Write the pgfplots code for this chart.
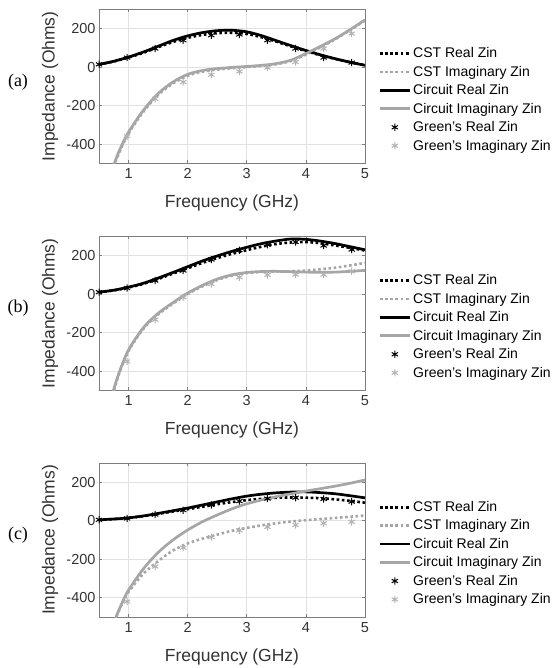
\documentclass[border=0pt]{standalone}
\usepackage{pgfplots}
\pgfplotsset{compat=1.18}
\usepackage{fontspec}
\setmainfont{Liberation Sans}
\newfontfamily\timesfont{Liberation Serif}

\definecolor{lgray}{RGB}{166,166,166}
\definecolor{mgray}{RGB}{178,178,178}
\definecolor{axgray}{RGB}{125,125,125}
\definecolor{gridgray}{RGB}{226,226,226}

\pgfplotsset{
  zin/.style={
    scale only axis, width=266pt, height=154pt,
    anchor=north west,
    xmin=0.5, xmax=5, ymin=-500, ymax=300,
    xtick={1,2,3,4,5}, ytick={-400,-200,0,200},
    grid=major, major grid style={gridgray, line width=0.6pt},
    axis line style={axgray, line width=0.8pt},
    tick style={axgray, line width=0.6pt}, tick align=inside, major tick length=3pt,
    ticklabel style={font=\fontsize{14.5}{16}\selectfont, text=black!80},
    xticklabel style={yshift=-2pt},
    /pgf/number format/assume math mode=true,
    xlabel={Frequency (GHz)}, ylabel={Impedance (Ohms)},
    label style={font=\fontsize{17.5}{20}\selectfont, text=black!80},
    xlabel style={at={(axis description cs:0.5,-0.26)}, anchor=center},
    ylabel style={at={(axis description cs:-0.184,0.5)}, anchor=center},
    legend style={at={(axis description cs:1.05,0.765)}, anchor=north west,
      draw=none, fill=none, font=\fontsize{14}{16}\selectfont, row sep=2.8pt, inner sep=0pt},
    legend cell align=left,
    legend image code/.code={\draw[mark repeat=2,mark phase=2,#1] plot coordinates {(0pt,0pt)(15pt,0pt)(30pt,0pt)};},
  },
  cstre/.style={black, line width=2.6pt, dash pattern=on 2.6pt off 2.6pt},
  cstim/.style={lgray, line width=2.6pt, dash pattern=on 2.6pt off 2.6pt},
  cirre/.style={black, line width=2.7pt},
  cirim/.style={lgray, line width=2.7pt},
  grre/.style={only marks, mark=asterisk, mark size=3.6pt, mark options={black, line width=1pt, solid}},
  grim/.style={only marks, mark=asterisk, mark size=3.6pt, mark options={mgray, line width=1pt, solid}},
}

\begin{document}
\begin{tikzpicture}
\useasboundingbox (0,0) rectangle (552pt,-668pt);

% (a)
\node[font=\timesfont\fontsize{18}{20}\selectfont] at (18pt,-82pt) {(a)};
\begin{axis}[zin, at={(99pt,-9.3pt)}]
\addplot[cstre, smooth] coordinates {(0.5,13)(0.75,29)(1,50)(1.25,74)(1.5,103)(1.75,130)(2,152)(2.25,167)(2.5,176)(2.75,178)(3,172)(3.25,155)(3.5,132)(3.75,107)(4,83)(4.25,61)(4.5,42)(4.75,25)(5,9)};
\addplot[cstim, smooth] coordinates {(0.7,-570)(0.77,-500)(0.85,-440)(1,-345)(1.25,-232)(1.5,-145)(1.75,-85)(2,-45)(2.25,-24)(2.5,-13)(2.75,-6)(3,0)(3.25,6)(3.5,15)(3.75,32)(4,65)(4.25,103)(4.5,145)(4.75,192)(5,243)};
\addplot[cirre, smooth] coordinates {(0.5,14)(0.75,30)(1,52)(1.25,78)(1.5,108)(1.75,138)(2,162)(2.25,179)(2.5,189)(2.75,191)(3,183)(3.25,163)(3.5,137)(3.75,111)(4,86)(4.25,63)(4.5,43)(4.75,25)(5,9)};
\addplot[cirim, smooth] coordinates {(0.7,-560)(0.76,-500)(0.85,-430)(1,-338)(1.25,-225)(1.5,-138)(1.75,-78)(2,-38)(2.25,-18)(2.5,-8)(2.75,-2)(3,3)(3.25,9)(3.5,18)(3.75,36)(4,70)(4.25,108)(4.5,148)(4.75,195)(5,245)};
\addplot[grre] coordinates {(0.5,14)(0.975,49)(1.45,96)(1.925,139)(2.4,165)(2.875,169)(3.35,139)(3.825,96)(4.3,49)(4.775,23)};
\addplot[grim] coordinates {(0.975,-360)(1.45,-165)(1.925,-78)(2.4,-40)(2.875,-23)(3.35,-3)(3.825,26)(4.3,96)(4.775,174)};
\legend{CST Real Zin,CST Imaginary Zin,Circuit Real Zin,Circuit Imaginary Zin,Green's Real Zin,Green's Imaginary Zin}
\end{axis}

% (b)
\node[font=\timesfont\fontsize{18}{20}\selectfont] at (18pt,-308pt) {(b)};
\begin{axis}[zin, at={(99pt,-236.3pt)}]
\addplot[cstre, smooth] coordinates {(0.5,10)(0.75,19)(1,34)(1.25,53)(1.5,78)(1.75,106)(2,134)(2.25,162)(2.5,187)(2.75,209)(3,228)(3.25,246)(3.5,260)(3.75,268)(4,270)(4.25,264)(4.5,252)(4.75,240)(5,226)};
\addplot[cstim, smooth] coordinates {(0.7,-580)(0.75,-505)(0.85,-405)(1,-296)(1.25,-181)(1.5,-106)(1.75,-50)(2,0)(2.25,40)(2.5,73)(2.75,96)(3,109)(3.25,115)(3.5,117)(3.75,118)(4,122)(4.25,129)(4.5,137)(4.75,149)(5,162)};
\addplot[cirre, smooth] coordinates {(0.5,10)(0.75,20)(1,36)(1.25,56)(1.5,83)(1.75,112)(2,142)(2.25,172)(2.5,198)(2.75,222)(3,243)(3.25,262)(3.5,276)(3.75,286)(4,284)(4.25,275)(4.5,262)(4.75,246)(5,230)};
\addplot[cirim, smooth] coordinates {(0.7,-575)(0.745,-500)(0.85,-400)(1,-290)(1.25,-175)(1.5,-100)(1.75,-45)(2,5)(2.25,45)(2.5,78)(2.75,100)(3,112)(3.25,117)(3.5,118)(3.75,116)(4,114)(4.25,113)(4.5,114)(4.75,118)(5,123)};
\addplot[grre] coordinates {(0.5,10)(0.975,31)(1.45,70)(1.925,122)(2.4,179)(2.875,228)(3.35,256)(3.825,270)(4.3,252)(4.775,231)};
\addplot[grim] coordinates {(0.975,-350)(1.45,-133)(1.925,-17)(2.4,52)(2.875,87)(3.35,99)(3.825,101)(4.3,101)(4.775,118)};
\legend{CST Real Zin,CST Imaginary Zin,Circuit Real Zin,Circuit Imaginary Zin,Green's Real Zin,Green's Imaginary Zin}
\end{axis}

% (c)
\node[font=\timesfont\fontsize{18}{20}\selectfont] at (18pt,-535pt) {(c)};
\begin{axis}[zin, at={(99pt,-463pt)}]
\addplot[cstre, smooth] coordinates {(0.5,5)(0.75,9)(1,15)(1.25,24)(1.5,36)(1.75,48)(2,60)(2.25,73)(2.5,86)(2.75,97)(3,107)(3.25,114)(3.5,119)(3.75,121)(4,120)(4.25,117)(4.5,111)(4.75,103)(5,94)};
\addplot[cstim, smooth] coordinates {(0.75,-550)(0.8,-495)(0.9,-425)(1,-370)(1.25,-275)(1.5,-210)(1.75,-155)(2,-118)(2.25,-93)(2.5,-72)(2.75,-52)(3,-37)(3.25,-24)(3.5,-13)(3.75,-4)(4,3)(4.25,9)(4.5,15)(4.75,21)(5,27)};
\addplot[cirre, smooth] coordinates {(0.5,5)(0.75,9)(1,15)(1.25,25)(1.5,38)(1.75,52)(2,66)(2.25,82)(2.5,98)(2.75,114)(3,128)(3.25,138)(3.5,145)(3.75,149)(4,150)(4.25,146)(4.5,140)(4.75,130)(5,119)};
\addplot[cirim, smooth] coordinates {(0.75,-560)(0.79,-500)(0.85,-455)(0.9,-420)(1,-360)(1.25,-250)(1.5,-165)(1.75,-100)(2,-48)(2.25,-5)(2.5,30)(2.75,62)(3,88)(3.25,108)(3.5,125)(3.75,140)(4,154)(4.25,167)(4.5,180)(4.75,195)(5,212)};
\addplot[grre] coordinates {(0.5,5)(0.975,12)(1.45,32)(1.925,55)(2.4,82)(2.875,102)(3.35,115)(3.825,120)(4.3,113)(4.775,99)};
\addplot[grim] coordinates {(0.975,-420)(1.45,-238)(1.925,-140)(2.4,-85)(2.875,-50)(3.35,-32)(3.825,-22)(4.3,-13)(4.775,-6)};
\legend{CST Real Zin,CST Imaginary Zin,Circuit Real Zin,Circuit Imaginary Zin,Green's Real Zin,Green's Imaginary Zin}
\end{axis}
\end{tikzpicture}
\end{document}
